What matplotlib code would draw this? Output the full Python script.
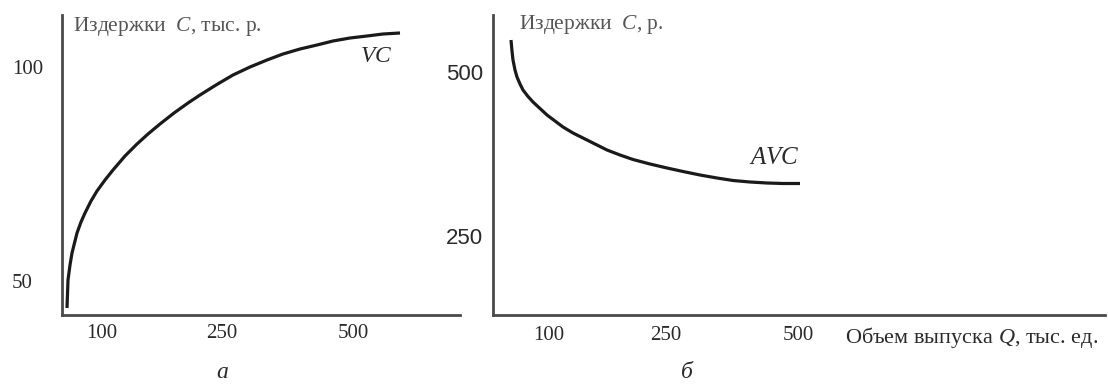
import matplotlib
matplotlib.use("Agg")
import matplotlib.pyplot as plt

plt.rcParams.update({
    "font.family": ["Liberation Serif", "DejaVu Serif"],
    "mathtext.fontset": "custom",
    "mathtext.it": "Liberation Serif:italic",
    "mathtext.rm": "Liberation Serif",
})

# ===== data (schematic units) =====
# left panel: VC
vc_q = [5, 6, 8, 10, 13, 15, 19, 23, 29, 35, 43, 51, 63, 75, 86, 98, 112,
        126, 138, 154, 171, 188, 205, 221, 238, 255, 271, 288, 305, 321, 338]
vc_c = [7, 35, 50, 62, 74, 82, 93, 102, 114, 124, 135, 145, 159, 171, 181, 191, 202,
        212, 220, 230, 240, 248, 255, 261, 266, 270, 274, 277, 279, 281, 282]
left_xtick_pos = [40, 160, 291]
left_xtick_lab = ["100", "250", "500"]
left_ytick_pos = [245, 32]
left_ytick_lab = ["100", "50"]

# right panel: AVC
avc_q = [18, 19, 20, 22, 24, 27, 30, 35, 40, 47, 54, 62, 70, 80, 90, 102, 114,
         127, 140, 157, 174, 190, 207, 224, 240, 257, 274, 290, 307]
avc_c = [275, 264, 255, 245, 238, 231, 225, 218.5, 213, 206.5, 200, 194, 188, 182,
         177, 171, 165, 160, 155.5, 151, 147, 143.5, 140, 137, 134.5, 133, 132,
         131.5, 131.5]
right_xtick_pos = [56, 173, 305]
right_xtick_lab = ["100", "250", "500"]
right_ytick_pos = [240, 77]
right_ytick_lab = ["500", "250"]

W, H = 1108, 385
axis_color = "#4a4a4a"
text_color = "#2a2a2a"
title_color = "#555555"

fig = plt.figure(figsize=(W / 100, H / 100), dpi=100)


def setup(ax, xmax):
    ax.set_xlim(0, xmax)
    ax.set_ylim(0, 300)
    for s in ["top", "right"]:
        ax.spines[s].set_visible(False)
    for s in ["left", "bottom"]:
        ax.spines[s].set_color(axis_color)
        ax.spines[s].set_linewidth(2.0)
    ax.set_xticks([])
    ax.set_yticks([])
    ax.patch.set_alpha(0)


# ----- left panel -----
ax1 = fig.add_axes([62 / W, 70 / H, 398 / W, 300 / H])
setup(ax1, 398)
ax1.plot(vc_q, vc_c, color="#1a1a1a", lw=2.3, solid_capstyle="butt",
         solid_joinstyle="round")
for p, lab in zip(left_xtick_pos, left_xtick_lab):
    ax1.text(p, -18, lab, ha="center", va="center", fontsize=15, color=text_color)
ax1.text(-19, left_ytick_pos[0], left_ytick_lab[0], ha="right", va="center",
         fontsize=15, color=text_color)
ax1.text(-29, left_ytick_pos[1], left_ytick_lab[1], ha="right", va="center",
         fontsize=15, color=text_color)
ax1.text(11, 288, "Издержки  $C$, тыс. р.", ha="left", va="center",
         fontsize=15.5, color=title_color)
ax1.text(314, 258, "$VC$", ha="center", va="center", fontsize=17, color=text_color)
ax1.text(160, -58, "а", ha="center", va="center", fontsize=17,
         style="italic", color=text_color)

# ----- right panel -----
ax2 = fig.add_axes([493 / W, 70 / H, 612 / W, 300 / H])
setup(ax2, 612)
ax2.plot(avc_q, avc_c, color="#1a1a1a", lw=2.3, solid_capstyle="butt",
         solid_joinstyle="round")
for p, lab in zip(right_xtick_pos, right_xtick_lab):
    ax2.text(p, -20, lab, ha="center", va="center", fontsize=15, color=text_color)
for p, lab in zip(right_ytick_pos, right_ytick_lab):
    ax2.text(-10, p, lab, ha="right", va="center", fontsize=16,
             family="Liberation Sans", color=text_color)
ax2.text(26, 290, "Издержки  $C$, р.", ha="left", va="center",
         fontsize=15.5, color=title_color)
ax2.text(352, -22, "Объем выпуска $Q$, тыс. ед.", ha="left", va="center",
         fontsize=16, color=text_color)
ax2.text(281, 157, "$AVC$", ha="center", va="center", fontsize=18, color=text_color)
ax2.text(194, -58, "б", ha="center", va="center", fontsize=17,
         style="italic", color=text_color)

fig.savefig("out.png", dpi=100)
